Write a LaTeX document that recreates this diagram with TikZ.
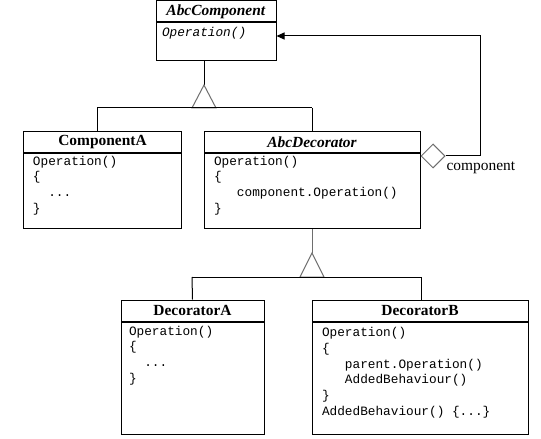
\documentclass[tikz,border=0pt]{standalone}
\usepackage{fontspec}
\setmainfont{Liberation Serif}
\setmonofont{Liberation Mono}
\usetikzlibrary{arrows.meta,calc,shapes.geometric}
\definecolor{genGray}{RGB}{110,110,110}
\begin{document}
\begin{tikzpicture}[x=1bp,y=-1bp,line width=1bp,
  head/.style={draw,rectangle,inner sep=0,font=\fontsize{15.5}{18}\selectfont\bfseries},
  body/.style={draw,rectangle,inner sep=0,anchor=north},
  code/.style={font=\fontsize{12.8}{15.7}\selectfont\ttfamily,align=left,anchor=base west,inner sep=0},
  gen/.style={draw=genGray,fill=white,line join=miter},
  lbl/.style={font=\fontsize{15.5}{18}\selectfont,inner sep=0,anchor=base west}]
\useasboundingbox (0,0) rectangle (541,439);

% AbcComponent
\node[head,minimum width=120bp,minimum height=21bp] (acH) at (216,11.5) {\textit{AbcComponent}};
\node[body,minimum width=120bp,minimum height=38bp] (acB) at (acH.south) {};
\node[code] (acT) at ($(acB.north west)+(6,14.5)$) {\itshape Operation()};

% ComponentA
\node[head,minimum width=157bp,minimum height=20.5bp] (caH) at (102.5,142.25) {ComponentA};
\node[body,minimum width=157bp,minimum height=75bp] (caB) at (caH.south) {};
\node[code] (caT) at ($(caB.north west)+(9,12+47.1)$) {Operation()\\\{\\\phantom{xx}...\\\}};

% AbcDecorator
\node[head,minimum width=216bp,minimum height=20.5bp] (adH) at (312,142.25) {\textit{AbcDecorator}};
\node[body,minimum width=216bp,minimum height=75bp] (adB) at (adH.south) {};
\node[code] (adT) at ($(adB.north west)+(10,12+47.1)$) {Operation()\\\{\\\phantom{xxx}component.Operation()\\\}};

% DecoratorA
\node[head,minimum width=143bp,minimum height=21.5bp] (daH) at (192.5,310.75) {DecoratorA};
\node[body,minimum width=143bp,minimum height=111.5bp] (daB) at (daH.south) {};
\node[code] (daT) at ($(daB.north west)+(8,13+47.1)$) {Operation()\\\{\\\phantom{xx}...\\\}};

% DecoratorB
\node[head,minimum width=216bp,minimum height=21.5bp] (dbH) at (420,310.75) {DecoratorB};
\node[body,minimum width=216bp,minimum height=111.5bp] (dbB) at (dbH.south) {};
\node[code] (dbT) at ($(dbB.north west)+(10,14.5+78.5)$) {Operation()\\\{\\\phantom{xxx}parent.Operation()\\\phantom{xxx}AddedBehaviour()\\\}\\AddedBehaviour() \{...\}};

% generalization 1
\coordinate (t1) at (204,85);
\coordinate (j1) at (204,108);
\draw (acB.south -| t1) -- (t1);
\draw[gen] (t1) -- (192,108) -- (216,108) -- cycle;
\draw (97,108) -- (312,108);
\draw (97,108) -- (caH.north -| 97,0);
\draw (adH.north |- j1) -- (adH.north);

% generalization 2
\coordinate (t2) at (312,253);
\draw[genGray] (adB.south) -- (t2);
\draw[gen] (t2) -- (300,277) -- (324,277) -- cycle;
\draw (192,277) -- (421,277);
\draw (192,277) -- (daH.north);
\draw (421,277) -- (dbH.north -| 421,0);

% aggregation
\node[draw=genGray,fill=white,diamond,inner sep=0,minimum width=24bp,minimum height=24bp,anchor=west] (dia) at (adB.east |- 0,156) {};
\coordinate (c1) at (480,156);
\coordinate (c2) at (480,36);
\draw[-{Triangle[length=8bp,width=7bp]}] (dia.east) -- (c1) -- (c2) -- (c2 -| acB.east);
\node[lbl] (cl) at (446,171) {component};
\end{tikzpicture}
\end{document}
